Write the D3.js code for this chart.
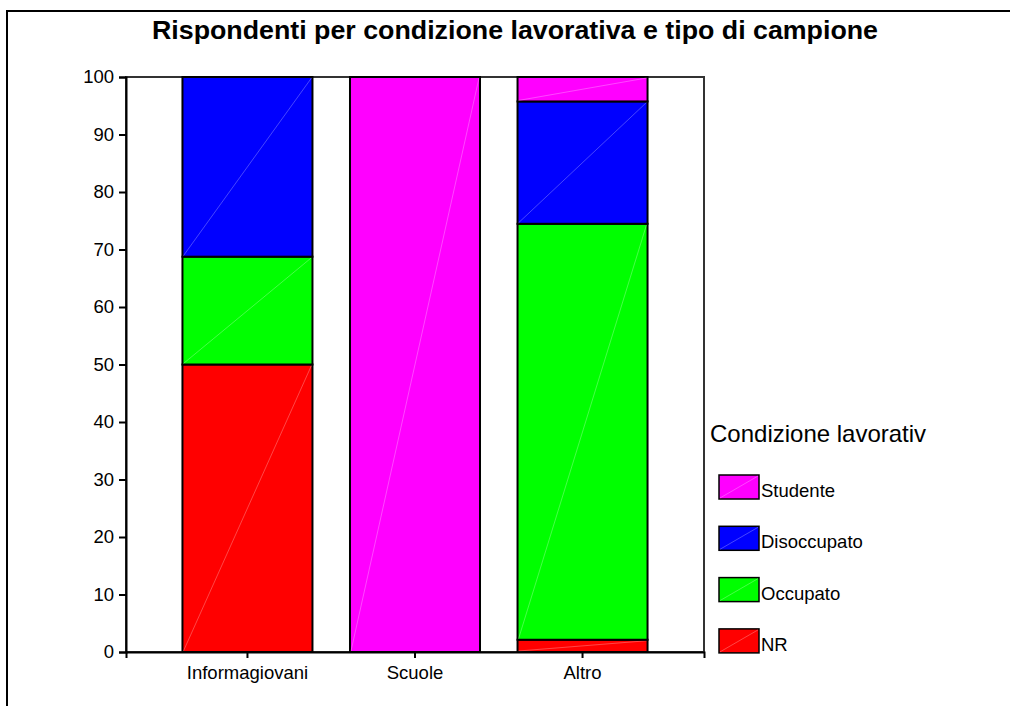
<!DOCTYPE html>
<html><head><meta charset="utf-8">
<script src="https://cdn.jsdelivr.net/npm/d3@7"></script>
<style>body{margin:0;background:#fff}svg{display:block;font-family:"Liberation Sans",Arial,sans-serif}</style>
</head><body><svg id="c" width="1010" height="706"></svg>
<script>
const categories = ["Informagiovani", "Scuole", "Altro"];
const seriesNames = ["NR", "Occupato", "Disoccupato", "Studente"];
const nr          = [50.0, 0, 2.13];
const occupato    = [18.75, 0, 72.34];
const disoccupato = [31.25, 0, 21.28];
const studente    = [0, 100, 4.25];
const yTicks = [0,10,20,30,40,50,60,70,80,90,100];
const colors = {"NR":"#ff0000","Occupato":"#00ff00","Disoccupato":"#0000ff","Studente":"#ff00ff"};
const legendOrder = ["Studente","Disoccupato","Occupato","NR"];

const rows = categories.map((c,i)=>({cat:c, NR:nr[i], Occupato:occupato[i], Disoccupato:disoccupato[i], Studente:studente[i]}));
const stack = d3.stack().keys(seriesNames)(rows);

const svg = d3.select("#c");
svg.append("rect").attr("x",7).attr("y",11).attr("width",1100).attr("height",800)
  .attr("fill","none").attr("stroke","#000").attr("stroke-width",2);

svg.append("text").attr("x",515).attr("y",39).attr("text-anchor","middle")
  .attr("font-weight","bold").attr("font-size",26).attr("textLength",726).attr("lengthAdjust","spacingAndGlyphs")
  .text("Rispondenti per condizione lavorativa e tipo di campione");

const L=126, R=704, T=77, B=652;
const x = d3.scaleBand().domain(categories).range([L,R]).paddingInner(0.224).paddingOuter(0.337);
const y = d3.scaleLinear().domain([0,100]).range([B,T]);

// plot frame
svg.append("rect").attr("x",L).attr("y",T).attr("width",R-L).attr("height",B-T)
  .attr("fill","none").attr("stroke","#333").attr("stroke-width",2);

const g = svg.append("g");
stack.forEach(s=>{
  s.forEach(d=>{
    if (d[1]-d[0] <= 0) return;
    const x0 = x(d.data.cat), w = x.bandwidth(), y0=y(d[0]), y1=y(d[1]);
    g.append("rect").attr("x",x0).attr("y",y1).attr("width",w).attr("height",y0-y1)
      .attr("fill",colors[s.key]).attr("stroke","#000").attr("stroke-width",2);
    g.append("line").attr("x1",x0+1).attr("y1",y0-1).attr("x2",x0+w-1).attr("y2",y1+1)
      .attr("stroke","#fff").attr("stroke-opacity",0.35).attr("stroke-width",0.8);
  });
});

const yAxis = svg.append("g").attr("transform",`translate(${L},0)`)
  .call(d3.axisLeft(y).tickValues(yTicks).tickSize(7).tickPadding(5));
yAxis.select(".domain").attr("stroke","#000").attr("stroke-width",2);
yAxis.selectAll(".tick line").attr("stroke","#000").attr("stroke-width",2);
yAxis.selectAll("text").attr("font-size",18.5).attr("fill","#000").style("font-family","Liberation Sans, Arial, sans-serif");

const xAxis = svg.append("g").attr("transform",`translate(0,${B})`)
  .call(d3.axisBottom(x).tickSize(6).tickPadding(8));
xAxis.select(".domain").attr("stroke","#000").attr("stroke-width",2);
xAxis.selectAll(".tick line").attr("stroke","#000").attr("stroke-width",2);
xAxis.selectAll("text").attr("font-size",18.5).attr("fill","#000").style("font-family","Liberation Sans, Arial, sans-serif");

// legend
const lg = svg.append("g");
lg.append("text").attr("x",710).attr("y",442).attr("font-size",24).text("Condizione lavorativ");
legendOrder.forEach((k,i)=>{
  const yy = 475 + i*51.3;
  lg.append("rect").attr("x",719).attr("y",yy).attr("width",40).attr("height",24)
    .attr("fill",colors[k]).attr("stroke","#000").attr("stroke-width",1.5);
  lg.append("line").attr("x1",720).attr("y1",yy+23).attr("x2",758).attr("y2",yy+1)
    .attr("stroke","#fff").attr("stroke-opacity",0.35).attr("stroke-width",0.8);
  lg.append("text").attr("x",761).attr("y",yy+22).attr("font-size",18.5).text(k);
});
</script></body></html>
